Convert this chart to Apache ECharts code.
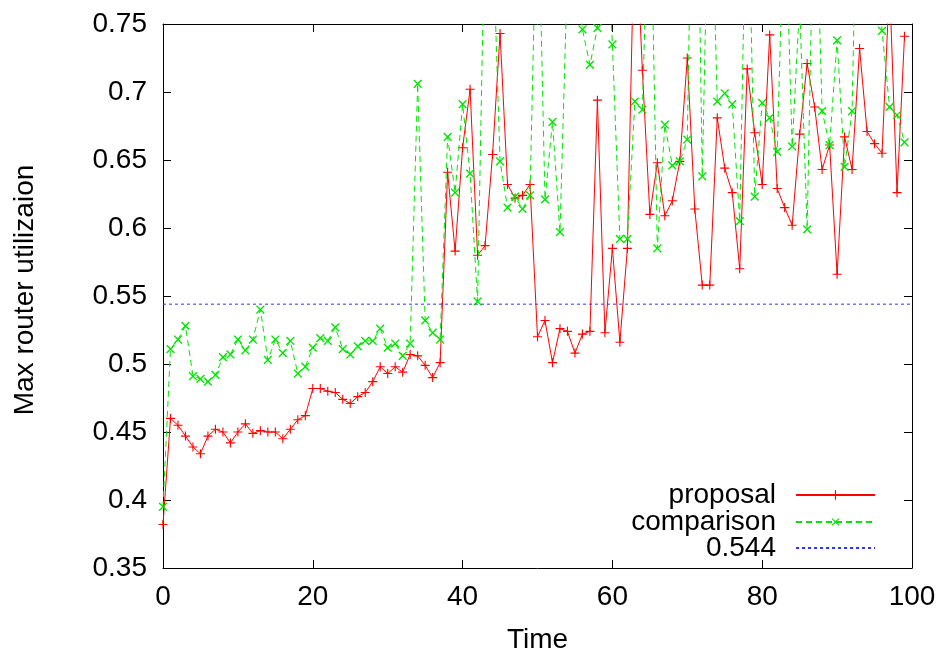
<!DOCTYPE html>
<html>
<head>
<meta charset="utf-8">
<script src="https://cdn.jsdelivr.net/npm/echarts@6/dist/echarts.min.js"></script>
<style>
html,body{margin:0;padding:0;background:#fff;}
#chart{width:944px;height:659px;}
</style>
</head>
<body>
<div id="chart"></div>
<script>
// ---- data ----
var times = Array.from({length: 100}, function (_, i) { return i; });
var proposal = [
  0.382, 0.460, 0.455, 0.447, 0.439, 0.434, 0.447, 0.452, 0.450, 0.442,
  0.450, 0.456, 0.449, 0.451, 0.450, 0.450, 0.445, 0.452, 0.459, 0.462,
  0.482, 0.482, 0.480, 0.479, 0.474, 0.471, 0.476, 0.479, 0.487, 0.498,
  0.493, 0.498, 0.494, 0.507, 0.506, 0.499, 0.490, 0.501, 0.641, 0.583,
  0.659, 0.702, 0.580, 0.587, 0.654, 0.743, 0.632, 0.622, 0.624, 0.632,
  0.520, 0.532, 0.501, 0.526, 0.524, 0.508, 0.522, 0.524, 0.694, 0.523,
  0.585, 0.516, 0.585, 0.840, 0.716, 0.610, 0.648, 0.609, 0.620, 0.649,
  0.725, 0.614, 0.558, 0.558, 0.681, 0.644, 0.626, 0.570, 0.717, 0.670,
  0.632, 0.742, 0.629, 0.615, 0.602, 0.669, 0.721, 0.689, 0.643, 0.661,
  0.566, 0.667, 0.643, 0.732, 0.671, 0.662, 0.655, 0.780, 0.626, 0.741
];
var comparison = [
  0.395, 0.511, 0.518, 0.528, 0.491, 0.489, 0.487, 0.492, 0.505, 0.507,
  0.518, 0.510, 0.518, 0.540, 0.503, 0.518, 0.508, 0.517, 0.493, 0.498,
  0.512, 0.519, 0.517, 0.527, 0.511, 0.507, 0.513, 0.517, 0.517, 0.526,
  0.512, 0.515, 0.506, 0.515, 0.706, 0.532, 0.523, 0.518, 0.667, 0.626,
  0.691, 0.640, 0.546, 0.840, 0.820, 0.649, 0.615, 0.623, 0.614, 0.624,
  0.870, 0.621, 0.678, 0.597, 0.790, 0.800, 0.746, 0.720, 0.747, 0.850,
  0.735, 0.592, 0.592, 0.693, 0.687, 0.880, 0.585, 0.676, 0.646, 0.649,
  0.665, 1.000, 0.638, 0.900, 0.693, 0.699, 0.691, 0.605, 0.890, 0.623,
  0.692, 0.681, 0.656, 0.850, 0.660, 0.765, 0.599, 0.880, 0.686, 0.661,
  0.738, 0.645, 0.686, 0.950, 0.850, 0.820, 0.745, 0.689, 0.683, 0.663
];
var thresholdValue = 0.544;
var thresholdX = [0, 100];
var xTicks = {min: 0, max: 100, interval: 20};
var yTicks = {min: 0.35, max: 0.75, interval: 0.05};
var seriesNames = ['proposal', 'comparison', '0.544'];
var xName = 'Time';
var yName = 'Max router utilizaion';

// ---- chart ----
var FONT = 'Liberation Sans, Arial, Helvetica, sans-serif';
var plusPath = 'path://M5.25,0H6.75V5.25H12V6.75H6.75V12H5.25V6.75H0V5.25H5.25Z';

function pairs(xs, ys) { return xs.map(function (x, i) { return [x, ys[i]]; }); }

var axisCommon = {
  axisLine: {show: true, onZero: false, lineStyle: {color: '#000', width: 1}},
  axisTick: {show: true, inside: true, length: 8, lineStyle: {color: '#000', width: 1}},
  splitLine: {show: false}
};
function mk(extra) { return Object.assign({}, JSON.parse(JSON.stringify(axisCommon)), extra); }

var chart = echarts.init(document.getElementById('chart'), null, {renderer: 'canvas'});
chart.setOption({
  animation: false,
  backgroundColor: '#fff',
  textStyle: {fontFamily: FONT},
  grid: {left: 163, right: 32, top: 24, bottom: 90, containLabel: false},
  xAxis: [
    mk({type: 'value', position: 'bottom', min: xTicks.min, max: xTicks.max, interval: xTicks.interval,
      axisLabel: {color: '#000', fontSize: 28, fontFamily: FONT, margin: 15},
      name: xName, nameLocation: 'middle', nameGap: 58,
      nameTextStyle: {color: '#000', fontSize: 28, fontFamily: FONT}}),
    mk({type: 'value', position: 'top', min: xTicks.min, max: xTicks.max, interval: xTicks.interval,
      axisLabel: {show: false}})
  ],
  yAxis: [
    mk({type: 'value', position: 'left', min: yTicks.min, max: yTicks.max, interval: yTicks.interval,
      axisLabel: {color: '#000', fontSize: 28, fontFamily: FONT, margin: 16},
      name: yName, nameLocation: 'middle', nameGap: 124, nameRotate: 90,
      nameTextStyle: {color: '#000', fontSize: 28, fontFamily: FONT, padding: [0, 0, 0, 12]}}),
    mk({type: 'value', position: 'right', min: yTicks.min, max: yTicks.max, interval: yTicks.interval,
      axisLabel: {show: false}})
  ],
  legend: [0, 1, 2].map(function (i) {
    var tops = [481, 508, 534];
    var d = {name: seriesNames[i]};
    if (i === 2) d.itemStyle = {opacity: 0};
    return {
      data: [d], right: 68, top: tops[i], orient: 'vertical', align: 'right',
      itemWidth: 79, itemHeight: 12, padding: 0, selectedMode: false,
      textStyle: {color: '#000', fontSize: 28, fontFamily: FONT, padding: [0, 15, 0, 0]}
    };
  }),
  series: [
    {
      name: seriesNames[0], type: 'line', xAxisIndex: 0, yAxisIndex: 0,
      data: pairs(times, proposal),
      color: '#ff0000',
      lineStyle: {color: '#ff0000', width: 1},
      symbol: plusPath, symbolSize: 9, showAllSymbol: true,
      itemStyle: {color: '#ff0000'},
      clip: true, z: 2
    },
    {
      name: seriesNames[1], type: 'line', xAxisIndex: 0, yAxisIndex: 0,
      data: pairs(times, comparison),
      color: '#00e600',
      lineStyle: {color: '#00e600', width: 1, type: [6, 4]},
      symbol: plusPath, symbolSize: 11, symbolRotate: 45, showAllSymbol: true,
      itemStyle: {color: '#00e600'},
      clip: true, z: 3
    },
    {
      name: seriesNames[2], type: 'line', xAxisIndex: 0, yAxisIndex: 0,
      data: thresholdX.map(function (x) { return [x, thresholdValue]; }),
      color: '#3333ff',
      lineStyle: {color: '#3333ff', width: 1, type: [3, 3]},
      symbol: 'none',
      itemStyle: {color: 'rgba(0,0,0,0)'},
      clip: true, z: 4
    }
  ]
});
</script>
</body>
</html>
